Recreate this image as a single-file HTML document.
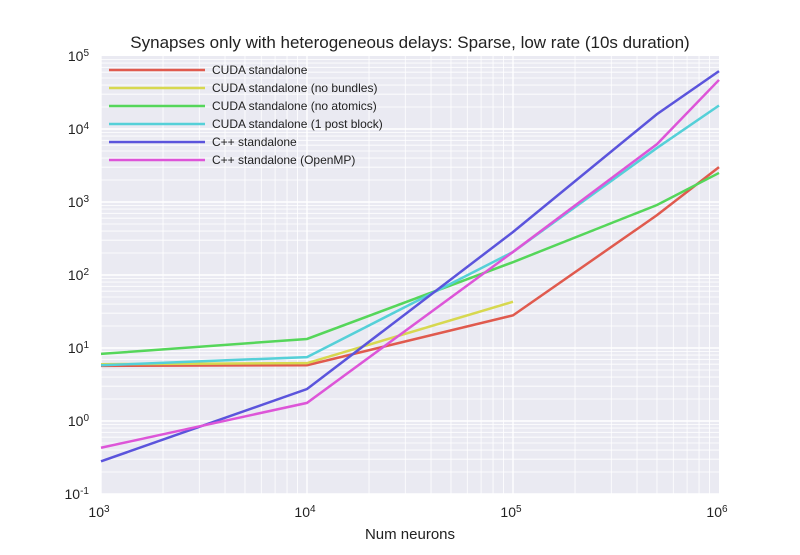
<!DOCTYPE html>
<html><head><meta charset="utf-8"><style>
body{margin:0;background:#fff;font-family:"Liberation Sans",sans-serif}
</style></head><body>
<svg id="chart" width="800" height="550" xmlns="http://www.w3.org/2000/svg"></svg>
<script>
const xVals=[1e3,1e4,1e5,5e5,1e6];
const seriesNames=["CUDA standalone","CUDA standalone (no bundles)","CUDA standalone (no atomics)","CUDA standalone (1 post block)","C++ standalone","C++ standalone (OpenMP)"];
const cudaStandalone=[5.7,5.8,28,660,3000];
const cudaNoBundles=[6.0,6.2,43];
const cudaNoAtomics=[8.3,13.3,150,910,2500];
const cudaPostBlock=[5.8,7.5,207,5500,21000];
const cppStandalone=[0.28,2.74,388,16000,62000];
const cppOpenMP=[0.43,1.77,207,6200,47000];
const seriesColors=["#e05a4e","#d7d84f","#55d65a","#55d0d8","#5b54dc","#dd55d8"];
const xTickExp=[3,4,5,6];
const yTickExp=[-1,0,1,2,3,4,5];
const allSeries=[cudaStandalone,cudaNoBundles,cudaNoAtomics,cudaPostBlock,cppStandalone,cppOpenMP];

const svg=document.getElementById('chart');
const NS="http://www.w3.org/2000/svg";
const L=101,R=719,T=56,B=494;
const xs=v=>L+(Math.log10(v)-3)/3*(R-L);
const ys=v=>B-(Math.log10(v)+1)/6*(B-T);
function mk(tag,attrs,parent){const e=document.createElementNS(NS,tag);for(const k in attrs)e.setAttribute(k,attrs[k]);(parent||svg).appendChild(e);return e;}

const bg=mk('rect',{x:L,y:T,width:R-L,height:B-T,fill:'#eaeaf2'});


const grid=mk('g',{stroke:'#fff'});


for(let d=3;d<6;d++)for(let m=1;m<10;m++){const x=xs(m*Math.pow(10,d));mk('line',{x1:x,x2:x,y1:T,y2:B,'stroke-width':m==1?1.4:0.8},grid);}
for(let d=-1;d<5;d++)for(let m=1;m<10;m++){const y=ys(m*Math.pow(10,d));mk('line',{x1:L,x2:R,y1:y,y2:y,'stroke-width':m==1?1.4:0.8},grid);}

xTickExp.forEach(e=>{const t=mk('text',{x:xs(Math.pow(10,e))-2,y:517,'font-size':14,fill:'#222','text-anchor':'middle'});

t.innerHTML='10<tspan dy="-5" font-size="10">'+e+'</tspan>';});
yTickExp.forEach(e=>{const t=mk('text',{x:89,y:ys(Math.pow(10,e))+5,'font-size':14,fill:'#222','text-anchor':'end'});

t.innerHTML='10<tspan dy="-5" font-size="10">'+e+'</tspan>';});

allSeries.forEach((s,i)=>{
 const pts=s.map((v,j)=>xs(xVals[j])+','+ys(v)).join(' ');
 const p=mk('polyline',{points:pts,fill:'none',stroke:seriesColors[i],'stroke-width':2.5});
 
 
});

seriesNames.forEach((n,i)=>{
 const y=70+i*18;
 const g=mk('g',{});
 
 
 mk('line',{x1:109,x2:205,y1:y,y2:y,stroke:seriesColors[i],'stroke-width':2.5},g);
 const t=mk('text',{x:212,y:y+4,'font-size':12,fill:'#222'},g);t.textContent=n;
});

const title=mk('text',{x:410,y:48,'font-size':17,fill:'#222','text-anchor':'middle'});
title.textContent='Synapses only with heterogeneous delays: Sparse, low rate (10s duration)';


const xl=mk('text',{x:410,y:539,'font-size':15,fill:'#222','text-anchor':'middle'});
xl.textContent='Num neurons';


</script>
</body></html>
